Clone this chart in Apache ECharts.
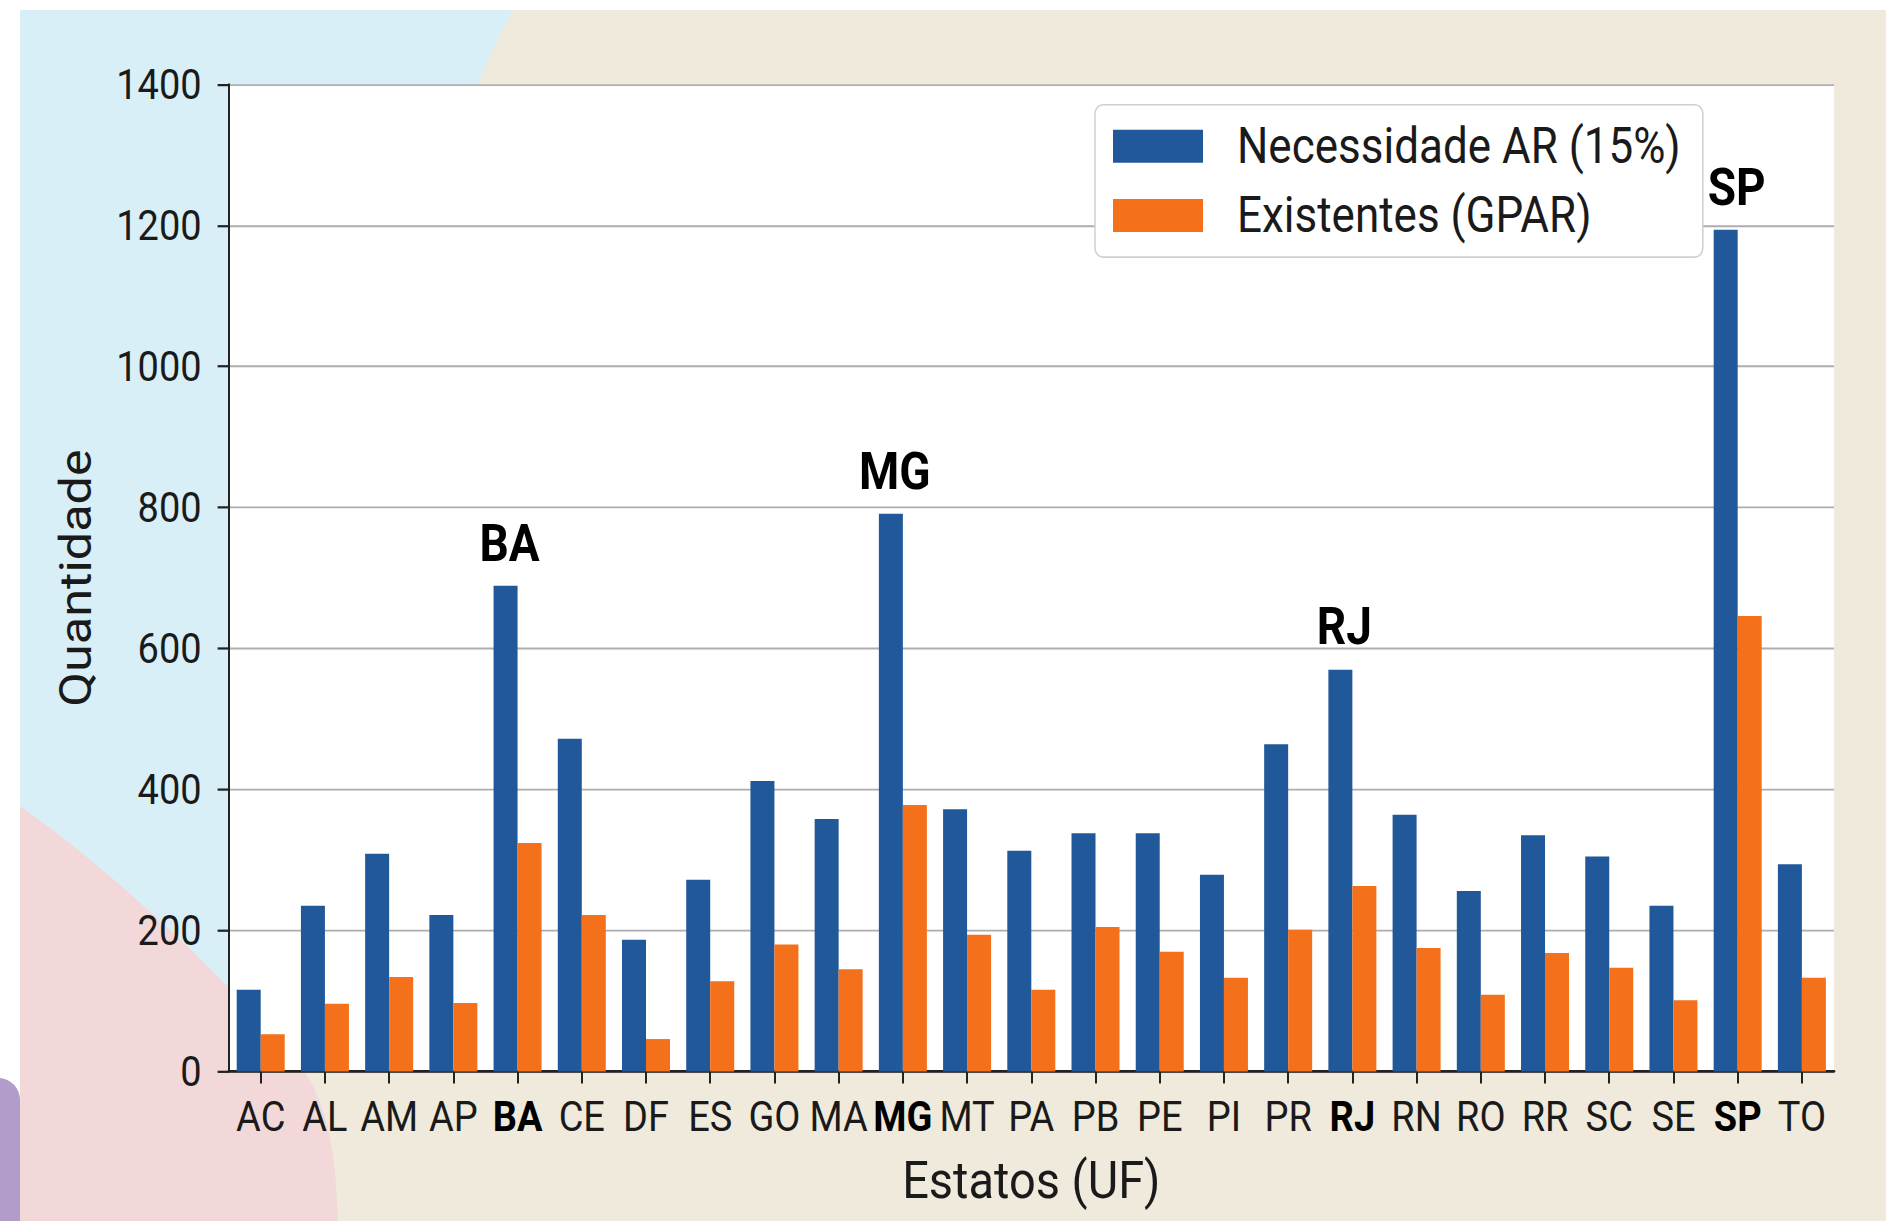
<!DOCTYPE html>
<html>
<head>
<meta charset="utf-8">
<script src="https://cdn.jsdelivr.net/npm/echarts@6/dist/echarts.min.js"></script>
<style>
  html, body { margin: 0; padding: 0; background: #fff; }
  #page { position: relative; width: 1886px; height: 1221px; overflow: hidden; }
  #bg { position: absolute; left: 0; top: 0; }
  #chart { position: absolute; left: 0; top: 0; width: 1886px; height: 1090px;
           transform: scaleY(1.12); transform-origin: 0 0; }
</style>
</head>
<body>
<div id="page">
  <svg id="bg" width="1886" height="1221">
    <rect x="20" y="10" width="1866" height="1211" fill="#efeadc"/>
    <path d="M20,10 L514,10 Q490,50 472,100 L228,1100 L20,1100 Z" fill="#d8eff7"/>
    <path d="M20,806 C110,870 200,955 260,1020 C310,1070 335,1100 338,1221 L20,1221 Z" fill="#f3d8d9"/>
    <path d="M0,1078 L0,1221 L20,1221 L20,1100 A22,22 0 0 0 0,1078 Z" fill="#b29cc9"/>
  </svg>
  <div id="chart"></div>
</div>
<script>
// estados e valores
const estados = ['AC', 'AL', 'AM', 'AP', 'BA', 'CE', 'DF', 'ES', 'GO', 'MA', 'MG', 'MT', 'PA',
    'PB', 'PE', 'PI', 'PR', 'RJ', 'RN', 'RO', 'RR', 'SC', 'SE', 'SP', 'TO'];
const necessidade = [116, 235, 309, 222, 689, 472, 187, 272, 412, 358, 791, 372, 313,
    338, 338, 279, 464, 570, 364, 256, 335, 305, 235, 1194, 294];
const existentes = [53, 96, 134, 97, 324, 222, 46, 128, 180, 145, 378, 194, 116,
    205, 170, 133, 201, 263, 175, 109, 168, 147, 101, 646, 133];
const destaques = ['BA', 'MG', 'RJ', 'SP'];
const yTicks = [0, 200, 400, 600, 800, 1000, 1200, 1400];

const font = 'Roboto, "Noto Sans", sans-serif';
const ink = '#1a1a1a';

let chart = echarts.init(document.getElementById('chart'), null, {renderer: 'svg'});

let dadosNecessidade = necessidade.map((v, i) => {
    if (destaques.includes(estados[i])) {
        let item = {value: v, label: {show: true}};
        if (estados[i] === 'SP') {
            item.label.offset = [11, 0];
        }
        return item;
    }
    return v;
});

let option = {
    animation: false,
    grid: {
        left: 228.6,
        right: 52,
        top: 75.4,
        bottom: 133.3,
        show: true,
        backgroundColor: '#ffffff',
        borderWidth: 0
    },
    legend: {
        orient: 'vertical',
        left: 1095,
        top: 93.5,
        icon: 'rect',
        itemWidth: 90,
        itemHeight: 29.5,
        itemGap: 18,
        padding: [15, 22, 15, 18],
        backgroundColor: '#ffffff',
        borderColor: '#cfcfcf',
        borderWidth: 1.5,
        borderRadius: 8,
        textStyle: {
            fontFamily: font,
            fontSize: 44,
            color: ink,
            padding: [0, 0, 0, 29]
        },
        data: ['Necessidade AR (15%)', 'Existentes (GPAR)']
    },
    xAxis: {
        type: 'category',
        data: estados,
        name: 'Estatos (UF)',
        nameLocation: 'middle',
        nameGap: 73,
        nameTextStyle: {fontFamily: font, fontSize: 47, color: ink},
        axisLine: {lineStyle: {color: '#222', width: 2.5}},
        axisTick: {show: true, alignWithLabel: true, length: 10.7, lineStyle: {color: '#222', width: 2}},
        axisLabel: {
            interval: 0,
            margin: 21,
            fontFamily: font,
            fontSize: 38,
            color: ink,
            formatter: (v) => destaques.includes(v) ? '{b|' + v + '}' : v,
            rich: {
                b: {fontFamily: font, fontSize: 38, fontWeight: 'bold', color: '#000'}
            }
        }
    },
    yAxis: {
        type: 'value',
        min: yTicks[0],
        max: yTicks[yTicks.length - 1],
        interval: 200,
        name: 'Quantidade',
        nameLocation: 'middle',
        nameGap: 130,
        nameTextStyle: {fontFamily: font, fontSize: 45, color: ink},
        axisLine: {show: true, lineStyle: {color: '#222', width: 2}},
        axisTick: {show: true, length: 11, lineStyle: {color: '#222', width: 2}},
        axisLabel: {
            margin: 27,
            fontFamily: font,
            fontSize: 38,
            color: ink,
            formatter: (v) => String(v)
        },
        splitLine: {show: true, lineStyle: {color: '#adadad', width: 1.6}}
    },
    series: [
        {
            name: 'Necessidade AR (15%)',
            type: 'bar',
            data: dadosNecessidade,
            barWidth: 24,
            barGap: '0%',
            itemStyle: {color: '#21589a'},
            label: {
                show: false,
                position: 'top',
                distance: 15,
                offset: [4, 0],
                formatter: '{b}',
                fontFamily: font,
                fontSize: 46,
                fontWeight: 'bold',
                color: '#000'
            }
        },
        {
            name: 'Existentes (GPAR)',
            type: 'bar',
            data: existentes,
            barWidth: 24,
            barGap: '0%',
            itemStyle: {color: '#f4701a'}
        }
    ]
};

chart.setOption(option);
</script>
</body>
</html>
